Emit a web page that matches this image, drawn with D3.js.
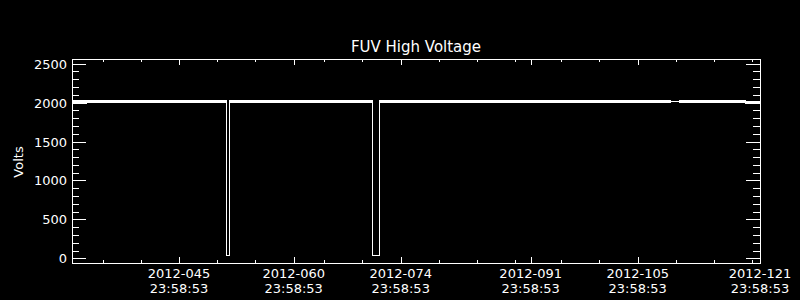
<!DOCTYPE html>
<html>
<head>
<meta charset="utf-8">
<script src="https://cdn.jsdelivr.net/npm/d3@7"></script>
<style>
  html, body { margin: 0; padding: 0; background: #000; }
  text { font-family: "DejaVu Sans", sans-serif; fill: #fff; }
</style>
</head>
<body>
<div id="chart"></div>
<script>
const margin = { top: 59, right: 40, bottom: 37, left: 72 };
const width = 688;
const height = 204;

// day of year 2012, all labels are at 23:58:53
const dayStart = 31;
const dayEnd = 121;
const majorDays = [45, 60, 74, 91, 105, 121];
const majorLabels = ["2012-045", "2012-060", "2012-074", "2012-091", "2012-105", "2012-121"];
const minorDays = [35, 40, 50, 55, 60, 64, 69, 79, 84, 89, 95, 100, 110, 115, 120];

const yMajor = [0, 500, 1000, 1500, 2000, 2500];
const yMinor = d3.range(0, 2501, 100);

// voltage trace (day, volts)
const traceDays  = [31, 51.15, 51.15, 51.54, 51.54, 70.25, 70.25, 71.17, 71.17, 121];
const traceVolts = [2021, 2021, 43, 43, 2021, 2021, 43, 43, 2021, 2021];

// min/max band of the dense samples
const bandFrom = [31, 32.86, 51.54, 71.17, 110.35, 119.1];
const bandTo   = [32.86, 51.15, 70.25, 109.17, 119.1, 121];
const bandLow  = [1995, 2008, 2008, 2008, 2008, 1995];
const bandHigh = [2033, 2033, 2033, 2033, 2033, 2021];

const t0 = Date.UTC(2012, 0, 1, 23, 58, 53);
const doy = d => new Date(t0 + (d - 1) * 864e5);

const svg = d3.select("#chart")
  .append("svg")
  .attr("width", 800)
  .attr("height", 300)
  .style("display", "block")
  .style("background", "#000");

const x = d3.scaleUtc()
  .domain([doy(dayStart), doy(dayEnd)])
  .range([margin.left, margin.left + width]);

const y = d3.scaleLinear()
  .domain([-60, 2560])
  .range([margin.top + height, margin.top]);

// data band
const area = d3.area()
  .x(d => x(doy(d.day)) + 0.5)
  .y0(d => y(d.lo) + 0.5)
  .y1(d => y(d.hi) + 0.5);

bandFrom.forEach((f, i) => {
  const pts = [
    { day: f, lo: bandLow[i], hi: bandHigh[i] },
    { day: bandTo[i], lo: bandLow[i], hi: bandHigh[i] }
  ];
  svg.append("path")
    .attr("d", area(pts))
    .attr("fill", "#fff")
    .attr("stroke", "#fff")
    .attr("stroke-width", 1)
    .attr("shape-rendering", "crispEdges");
});

const line = d3.line()
  .x(d => x(doy(d[0])) + 0.5)
  .y(d => y(d[1]) + 0.5);

svg.append("path")
  .attr("d", line(traceDays.map((d, i) => [d, traceVolts[i]])))
  .attr("fill", "none")
  .attr("stroke", "#fff")
  .attr("stroke-width", 1)
  .attr("shape-rendering", "crispEdges");

// axes, ticks point inward on all four sides
function axisG(axis, tx, ty) {
  const g = svg.append("g")
    .attr("transform", `translate(${tx},${ty})`)
    .call(axis);
  g.select(".domain").remove();
  g.selectAll("line").attr("stroke", "#fff").attr("shape-rendering", "crispEdges");
  return g;
}

const majorDates = majorDays.map(doy);
const minorDates = minorDays.map(doy);

axisG(d3.axisBottom(x).tickValues(minorDates).tickSize(-3).tickFormat(""), 0, margin.top + height);
const xb = axisG(d3.axisBottom(x).tickValues(majorDates).tickSize(-6).tickFormat(""), 0, margin.top + height);
axisG(d3.axisTop(x).tickValues(minorDates).tickSize(-3).tickFormat(""), 0, margin.top);
axisG(d3.axisTop(x).tickValues(majorDates).tickSize(-6).tickFormat(""), 0, margin.top);

axisG(d3.axisLeft(y).tickValues(yMinor).tickSize(-7).tickFormat(""), margin.left, 0);
axisG(d3.axisLeft(y).tickValues(yMajor).tickSize(-14).tickFormat(""), margin.left, 0);
axisG(d3.axisRight(y).tickValues(yMinor).tickSize(-7).tickFormat(""), margin.left + width, 0);
axisG(d3.axisRight(y).tickValues(yMajor).tickSize(-14).tickFormat(""), margin.left + width, 0);

// frame
svg.append("rect")
  .attr("x", margin.left + 0.5)
  .attr("y", margin.top + 0.5)
  .attr("width", width)
  .attr("height", height)
  .attr("fill", "none")
  .attr("stroke", "#fff")
  .attr("shape-rendering", "crispEdges");

// y tick labels
svg.selectAll(".ylab")
  .data(yMajor)
  .join("text")
  .attr("class", "ylab")
  .attr("x", 67)
  .attr("y", d => y(d) + 5)
  .attr("text-anchor", "end")
  .attr("font-size", 13)
  .text(d => d);

// x tick labels (two lines)
majorDays.forEach((d, i) => {
  const t = svg.append("text")
    .attr("text-anchor", "middle")
    .attr("font-size", 13);
  t.append("tspan").attr("x", x(doy(d))).attr("y", 278).text(majorLabels[i]);
  t.append("tspan").attr("x", x(doy(d))).attr("y", 293).text("23:58:53");
});

svg.append("text")
  .attr("x", margin.left + width / 2)
  .attr("y", 52)
  .attr("text-anchor", "middle")
  .attr("font-size", 15)
  .text("FUV High Voltage");

svg.append("text")
  .attr("transform", `translate(23,${margin.top + height / 2 + 1}) rotate(-90)`)
  .attr("text-anchor", "middle")
  .attr("font-size", 13)
  .text("Volts");
</script>
</body>
</html>
